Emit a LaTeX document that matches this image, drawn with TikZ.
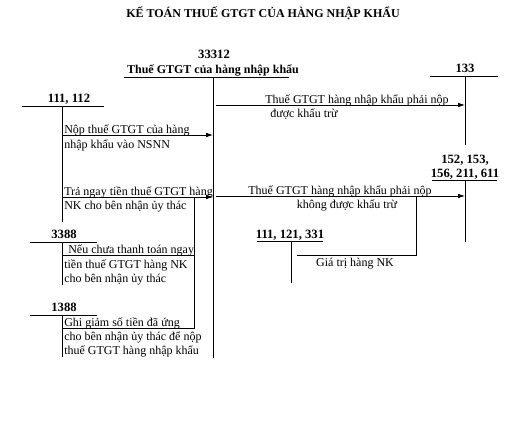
\documentclass[tikz,border=0pt]{standalone}
\usepackage{fontspec}
\setmainfont{Liberation Serif}
\usetikzlibrary{arrows.meta,positioning}

\begin{document}
\begin{tikzpicture}[x=0.75pt, y=-0.75pt,
  tieude/.style={font=\bfseries\fontsize{9}{11}\selectfont, inner sep=0pt},
  tk/.style={font=\bfseries\fontsize{9.5}{11}\selectfont, inner sep=0pt},
  nd/.style={font=\fontsize{9}{11}\selectfont, inner sep=0pt},
  lin/.style={line width=0.6pt},
  mui/.style={-{Latex[length=1.8mm, width=1.2mm]}, line width=0.6pt}
]
\useasboundingbox (0,0) rectangle (510,429);
% tieu de
\node[tieude] (tieude) at (263,13) {KẾ TOÁN THUẾ GTGT CỦA HÀNG NHẬP KHẨU};
% tai khoan 33312
\node[tk, anchor=base] (ma33312) at (214,58) {33312};
\node[tieude, anchor=base] (ten33312) at (213,73) {Thuế GTGT của hàng nhập khẩu};
\coordinate (t1l) at (124,77);
\coordinate (t1r) at (289,77);
\coordinate (t1c) at (213,77);
\coordinate (t1d) at (213,358);
% tai khoan 133
\node[tk, anchor=base] (ma133) at (465,72) {133};
\coordinate (t2l) at (430,76);
\coordinate (t2r) at (498,76);
\coordinate (t2c) at (465,76);
\coordinate (t2d) at (465,145);
% tai khoan 152, 153, 156, 211, 611
\node[tk, anchor=base] (ma152a) at (465,163) {152, 153,};
\node[tk, anchor=base] (ma152b) at (465,177) {156, 211, 611};
\coordinate (t3l) at (432,180);
\coordinate (t3r) at (497,180);
\coordinate (t3c) at (465,180);
\coordinate (t3d) at (465,242);
% tai khoan 111, 112
\node[tk, anchor=base] (ma111) at (69,102) {111, 112};
\coordinate (t4l) at (22,106);
\coordinate (t4r) at (104,106);
\coordinate (t4c) at (62,106);
\coordinate (t4d) at (62,222);
% tai khoan 3388
\node[tk, anchor=base] (ma3388) at (64,238) {3388};
\coordinate (t5l) at (30,242);
\coordinate (t5r) at (97,242);
\coordinate (t5c) at (62,242);
\coordinate (t5d) at (62,285);
% tai khoan 1388
\node[tk, anchor=base] (ma1388) at (64,311) {1388};
\coordinate (t6l) at (30,315);
\coordinate (t6r) at (97,315);
\coordinate (t6c) at (62,315);
\coordinate (t6d) at (62,357);
% tai khoan 111, 121, 331
\node[tk, anchor=base] (ma331) at (290,238) {111, 121, 331};
\coordinate (t7l) at (257,241);
\coordinate (t7r) at (323,241);
\coordinate (t7c) at (291,241);
\coordinate (t7d) at (291,283);
% chu T
\foreach \i in {1,...,7} {
  \draw[lin] (t\i l) -- (t\i r);
  \draw[lin] (t\i c) -- (t\i d);
}
% diem noi
\coordinate (a1s) at (62,135);
\coordinate (a1e) at (213,135);
\coordinate (a2s) at (62,197);
\coordinate (a2e) at (213,197);
\coordinate (g2) at (194,197);
\coordinate (b1) at (62,255);
\coordinate (b1e) at (194,255);
\coordinate (b2) at (62,328);
\coordinate (b2e) at (194,328);
\coordinate (a3s) at (216,105);
\coordinate (a3e) at (465,105);
\coordinate (a4s) at (216,196);
\coordinate (a4e) at (465,196);
\coordinate (g4) at (416,196);
\coordinate (c1) at (297,255);
\coordinate (c1e) at (416,255);
% noi dung
\node[nd, anchor=base west] (n1a) at (64,133) {Nộp thuế GTGT của hàng};
\node[nd, anchor=base west] (n1b) at (64,148) {nhập khẩu vào NSNN};
\node[nd, anchor=base west] (n2a) at (64,195) {Trả ngay tiền thuế GTGT hàng};
\node[nd, anchor=base west] (n2b) at (64,209) {NK cho bên nhận ủy thác};
\node[nd, anchor=base west] (n3a) at (68,253) {Nếu chưa thanh toán ngay};
\node[nd, anchor=base west] (n3b) at (64,268) {tiền thuế GTGT hàng NK};
\node[nd, anchor=base west] (n3c) at (64,282) {cho bên nhận ủy thác};
\node[nd, anchor=base west] (n4a) at (64,326) {Ghi giảm số tiền đã ứng};
\node[nd, anchor=base west] (n4b) at (64,340) {cho bên nhận ủy thác để nộp};
\node[nd, anchor=base west] (n4c) at (64,354) {thuế GTGT hàng nhập khẩu};
\node[nd, anchor=base] (n5a) at (357,103) {Thuế GTGT hàng nhập khẩu phải nộp};
\node[nd, anchor=base west] (n5b) at (270,117) {được khấu trừ};
\node[nd, anchor=base] (n6a) at (340,194) {Thuế GTGT hàng nhập khẩu phải nộp};
\node[nd, anchor=base] (n6b) at (347,208) {không được khấu trừ};
\node[nd, anchor=base] (n7) at (355,266) {Giá trị hàng NK};
% mui ten
\draw[mui] (a1s) -- (a1e);
\draw[mui] (a2s) -- (a2e);
\draw[mui] (a3s) -- (a3e);
\draw[mui] (a4s) -- (a4e);
\draw[lin] (b1) -- (b1e);
\draw[lin] (b2) -- (b2e) -- (g2);
\draw[lin] (c1) -- (c1e) -- (g4);
\end{tikzpicture}
\end{document}
